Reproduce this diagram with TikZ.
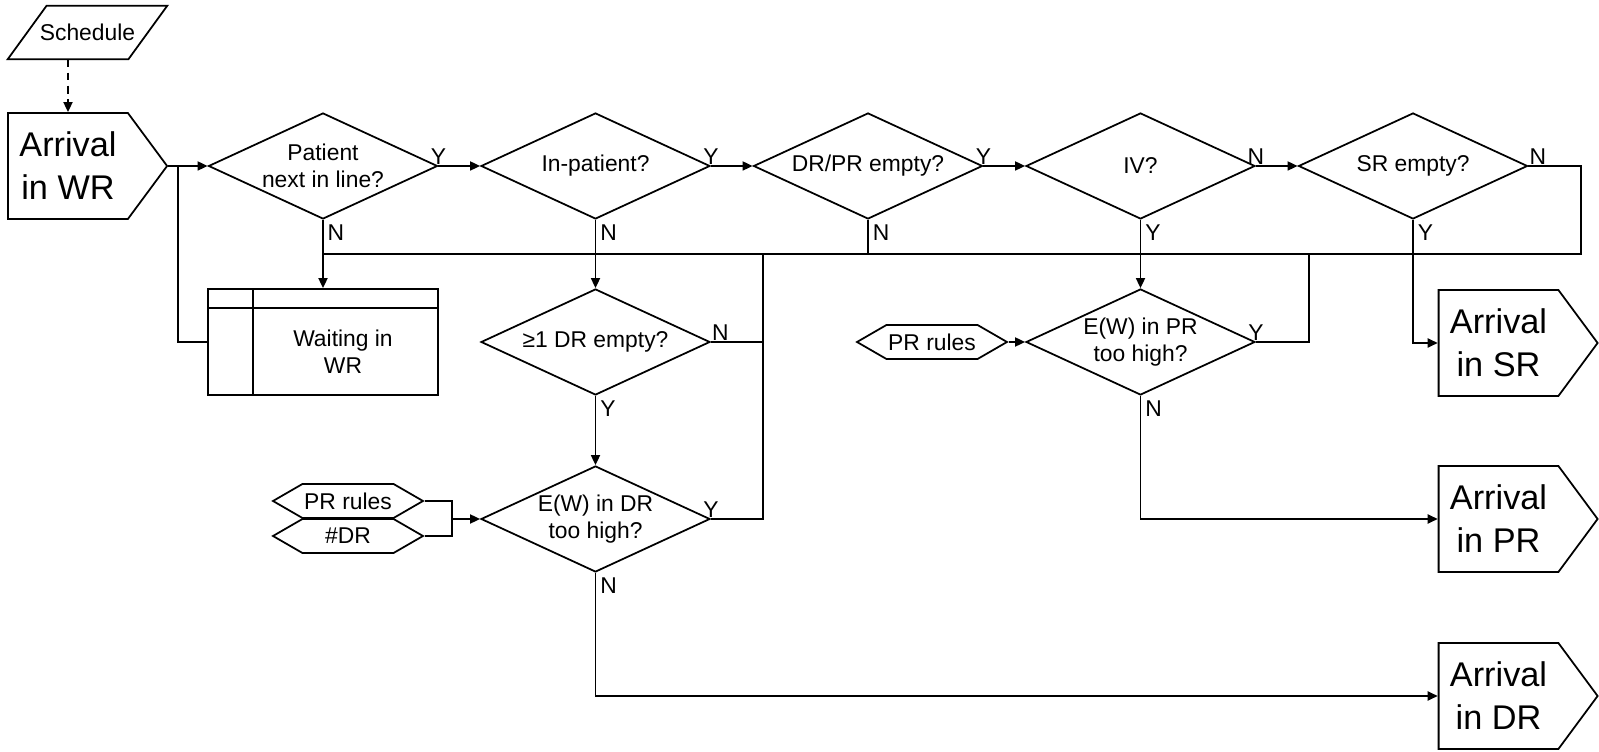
\documentclass[tikz,border=0pt]{standalone}
\usepackage{fontspec}
\setmainfont{Liberation Sans}
\usepackage{tikz}
\usetikzlibrary{positioning, arrows.meta, shapes.geometric, shapes.symbols}

\newcommand{\flowtxt}{\fontsize{13}{15.4}\selectfont}
\newcommand{\arrtxt}{\fontsize{19.5}{24.5}\selectfont}

\begin{document}
\begin{tikzpicture}[
        % --- Styles for the nodes ---
        base/.style={draw, line width=1pt},
        decision/.style={base, diamond, aspect=2.16, inner sep=0pt,
            minimum width=4.58cm, minimum height=2.12cm, align=center, font=\flowtxt},
        arrival/.style={base, signal, signal to=east, signal pointer angle=107,
            minimum width=3.18cm, minimum height=2.12cm, inner sep=0pt, align=center, font=\arrtxt},
        datain/.style={base, signal, signal to=east and west, signal pointer angle=60,
            minimum width=3cm, minimum height=0.68cm, inner sep=0pt, font=\flowtxt},
        store/.style={base, rectangle, minimum width=4.6cm, minimum height=2.12cm},
        inputdoc/.style={rectangle, minimum width=2.4cm, minimum height=1.06cm,
            inner sep=0pt, font=\flowtxt},
        yn/.style={font=\flowtxt, inner sep=0.5pt},
        flow/.style={line width=1pt},
        arr/.style={flow, -{Triangle[length=2mm, width=1.8mm]}}
    ]
    \useasboundingbox (0,0) rectangle (31.98,15.04);

    % --- Start and main row of decisions ---
    \node[inputdoc] (sched) at (1.75, 14.39) {Schedule};
    \draw[base] ([xshift=-0.39cm]sched.south west) -- ([xshift=-0.39cm]sched.south east)
        -- ([xshift=0.39cm]sched.north east) -- ([xshift=0.39cm]sched.north west) -- cycle;
    \node[arrival] (arrWR) at (1.36, 11.72) {Arrival\\in WR};
    \node[decision] (next) at (6.46, 11.72) {Patient\\next in line?};
    \node[decision] (inpat) at (11.91, 11.72) {In-patient?};
    \node[decision] (drpr) at (17.36, 11.72) {DR/PR empty?};
    \node[decision] (iv) at (22.81, 11.72) {IV?};
    \node[decision] (sr) at (28.26, 11.72) {SR empty?};

    % --- Waiting room ---
    \node[store] (wait) at (6.46, 8.2) {};
    \draw[flow] ([yshift=-0.4cm]wait.north west) -- ([yshift=-0.4cm]wait.north east);
    \draw[flow] ([xshift=0.92cm]wait.north west) -- ([xshift=0.92cm]wait.south west);
    \node[align=center, font=\flowtxt] (waittxt) at ([xshift=0.4cm, yshift=-0.2cm]wait.center) {Waiting in\\WR};

    % --- DR branch ---
    \node[decision] (drfree) at (11.91, 8.2) {≥1 DR empty?};
    \node[decision] (ewdr) at (11.91, 4.66) {E(W) in DR\\too high?};
    \node[datain] (rulesdr) at (6.96, 5.02) {PR rules};
    \node[datain] (ndr) at (6.96, 4.32) {\#DR};

    % --- PR branch ---
    \node[decision] (ewpr) at (22.81, 8.2) {E(W) in PR\\too high?};
    \node[datain] (rulespr) at (18.64, 8.2) {PR rules};

    % --- Exits ---
    \node[arrival] (arrSR) at (29.97, 8.18) {Arrival\\in SR};
    \node[arrival] (arrPR) at (29.97, 4.66) {Arrival\\in PR};
    \node[arrival] (arrDR) at (29.97, 1.12) {Arrival\\in DR};

    % --- Junction points ---
    \coordinate (split) at (3.56, 11.72);
    \coordinate (busR) at (31.62, 9.96);
    \coordinate (busA) at (15.26, 9.96);
    \coordinate (busB) at (26.18, 9.96);
    \coordinate (joinDR) at (9.04, 4.66);

    % --- Connectors ---
    \draw[arr, dash pattern=on 4.5pt off 3pt] (sched.south -| arrWR.north) -- (arrWR.north);
    \draw[flow] (arrWR.east) -- (split);
    \draw[arr] (split) -- (next.west);
    \draw[flow] (split) |- (wait.west);
    \draw[arr] (next.east) -- (inpat.west);
    \draw[arr] (inpat.east) -- (drpr.west);
    \draw[arr] (drpr.east) -- (iv.west);
    \draw[arr] (iv.east) -- (sr.west);

    \draw[flow] (sr.east) -| (busR) -- (next.south |- busR);
    \draw[arr] (next.south) -- (wait.north);
    \draw[arr] (inpat.south) -- (drfree.north);
    \draw[flow] (drpr.south) -- (drpr.south |- busR);
    \draw[flow] (drfree.east) -| (busA);
    \draw[flow] (ewdr.east) -| (busA);
    \draw[arr] (drfree.south) -- (ewdr.north);
    \draw[arr] (ewdr.south) |- (arrDR.west);
    \draw[flow] (rulesdr.east) -| (joinDR) |- (ndr.east);
    \draw[arr] (joinDR) -- (ewdr.west);

    \draw[arr] (iv.south) -- (ewpr.north);
    \draw[arr] (rulespr.east) -- (ewpr.west);
    \draw[flow] (ewpr.east) -| (busB);
    \draw[arr] (ewpr.south) |- (arrPR.west);
    \draw[arr] (sr.south) |- (arrSR.west);

    % --- Y / N labels ---
    \node[yn, anchor=south] at (next.east) {Y};
    \node[yn, anchor=south] at (inpat.east) {Y};
    \node[yn, anchor=south] at (drpr.east) {Y};
    \node[yn, anchor=south] at (iv.east) {N};
    \node[yn, anchor=south west] at (sr.east) {N};
    \node[yn, anchor=south west] at (drfree.east) {N};
    \node[yn, anchor=south] at (ewdr.east) {Y};
    \node[yn, anchor=south] at (ewpr.east) {Y};
    \node[yn, anchor=north west, inner sep=2.5pt] at (next.south) {N};
    \node[yn, anchor=north west, inner sep=2.5pt] at (inpat.south) {N};
    \node[yn, anchor=north west, inner sep=2.5pt] at (drpr.south) {N};
    \node[yn, anchor=north west, inner sep=2.5pt] at (iv.south) {Y};
    \node[yn, anchor=north west, inner sep=2.5pt] at (sr.south) {Y};
    \node[yn, anchor=north west, inner sep=2.5pt] at (drfree.south) {Y};
    \node[yn, anchor=north west, inner sep=2.5pt] at (ewdr.south) {N};
    \node[yn, anchor=north west, inner sep=2.5pt] at (ewpr.south) {N};
\end{tikzpicture}
\end{document}
